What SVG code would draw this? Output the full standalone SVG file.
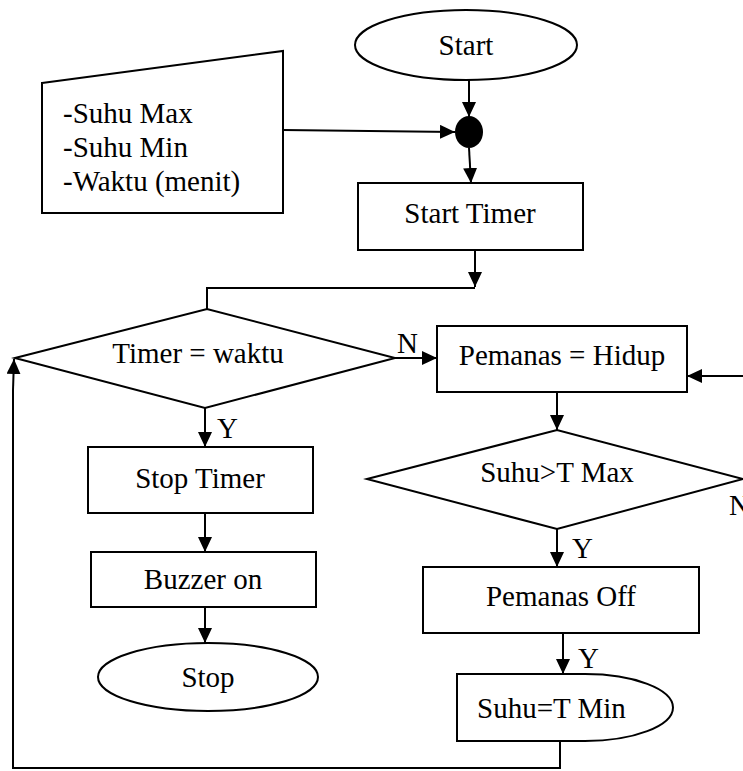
<svg xmlns="http://www.w3.org/2000/svg" width="743" height="771" viewBox="0 0 743 771">
<style>
.s{fill:#fff;stroke:#000;stroke-width:2}
.t{font-family:'Liberation Serif','Times New Roman','DejaVu Serif',serif;font-size:29px;fill:#000}
.c{text-anchor:middle}
.l{fill:none;stroke:#000;stroke-width:2}
</style>
<defs>
<marker id="a" markerUnits="userSpaceOnUse" markerWidth="16" markerHeight="14" refX="15" refY="7" orient="auto">
<path d="M0,0 L15,7 L0,14 Z" fill="#000"/>
</marker>
</defs>
<rect width="743" height="771" fill="#fff"/>
<g id="connectors">
<line class="l" x1="469" y1="80" x2="469" y2="117" marker-end="url(#a)"/>
<line class="l" x1="283" y1="130" x2="455" y2="132" marker-end="url(#a)"/>
<line class="l" x1="469" y1="148" x2="471" y2="183" marker-end="url(#a)"/>
<line class="l" x1="475" y1="250" x2="475" y2="287" marker-end="url(#a)"/>
<polyline class="l" points="475,288 207,288 207,309"/>
<line class="l" x1="395" y1="358" x2="437" y2="358" marker-end="url(#a)"/>
<line class="l" x1="743" y1="376" x2="687" y2="376" marker-end="url(#a)"/>
<line class="l" x1="557" y1="392" x2="557" y2="430" marker-end="url(#a)"/>
<line class="l" x1="557" y1="529" x2="557" y2="567" marker-end="url(#a)"/>
<line class="l" x1="563" y1="633" x2="563" y2="674" marker-end="url(#a)"/>
<polyline class="l" points="560,741 560,768 13,768 13,390"/>
<line class="l" x1="13" y1="390" x2="14" y2="359" marker-end="url(#a)"/>
<line class="l" x1="205" y1="408" x2="205" y2="447" marker-end="url(#a)"/>
<line class="l" x1="205" y1="513" x2="205" y2="552" marker-end="url(#a)"/>
<line class="l" x1="205" y1="607" x2="205" y2="643" marker-end="url(#a)"/>
<text class="t" x="397" y="353">N</text>
<text class="t" x="729" y="515">N</text>
<text class="t" x="217" y="438">Y</text>
<text class="t" x="572" y="558">Y</text>
<text class="t" x="578" y="668">Y</text>
</g>
<g id="start">
<ellipse class="s" cx="466" cy="45" rx="111" ry="35"/>
<text class="t c" x="466" y="55">Start</text>
</g>
<g id="junction">
<ellipse cx="469" cy="132" rx="14" ry="16" fill="#000"/>
</g>
<g id="input">
<polygon class="s" points="42,83 283,51 283,213 42,213"/>
<text class="t" x="63" y="123">-Suhu Max</text>
<text class="t" x="63" y="157">-Suhu Min</text>
<text class="t" x="63" y="191">-Waktu (menit)</text>
</g>
<g id="start-timer">
<rect class="s" x="358" y="183" width="225" height="67"/>
<text class="t c" x="470" y="223">Start Timer</text>
</g>
<g id="timer-decision">
<polygon class="s" points="15,358 207,309 395,358 205,408"/>
<text class="t c" x="198" y="363">Timer = waktu</text>
</g>
<g id="pemanas-hidup">
<rect class="s" x="437" y="326" width="250" height="66"/>
<text class="t c" x="562" y="365">Pemanas = Hidup</text>
</g>
<g id="suhu-max">
<polygon class="s" points="367,479 557,430 743,479 557,529"/>
<text class="t c" x="557" y="482">Suhu&gt;T Max</text>
</g>
<g id="pemanas-off">
<rect class="s" x="423" y="567" width="276" height="66"/>
<text class="t c" x="561" y="606">Pemanas Off</text>
</g>
<g id="suhu-min">
<path class="s" d="M457,674 L585,674 A88,33.5 0 0 1 585,741 L457,741 Z"/>
<text class="t" x="477" y="718">Suhu=T Min</text>
</g>
<g id="stop-timer">
<rect class="s" x="88" y="447" width="225" height="66"/>
<text class="t c" x="200" y="488">Stop Timer</text>
</g>
<g id="buzzer">
<rect class="s" x="91" y="552" width="225" height="55"/>
<text class="t c" x="203" y="589">Buzzer on</text>
</g>
<g id="stop">
<ellipse class="s" cx="208" cy="677" rx="110" ry="34"/>
<text class="t c" x="208" y="687">Stop</text>
</g>
</svg>
